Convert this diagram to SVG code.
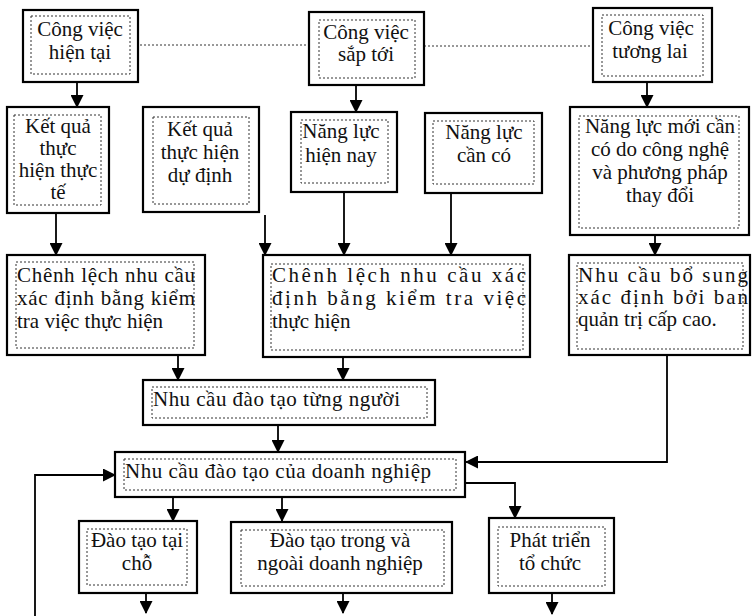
<svg xmlns="http://www.w3.org/2000/svg" width="752" height="616" viewBox="0 0 752 616">
<defs>
<marker id="ah" markerUnits="userSpaceOnUse" markerWidth="13" markerHeight="13" refX="12" refY="6.5" orient="auto">
<path d="M0,0 L13,6.5 L0,13 z" fill="#000"/>
</marker>
<style>
.box{fill:#fff;stroke:#000;stroke-width:2.2}
.in{fill:none;stroke:#333;stroke-width:1;stroke-dasharray:2 2}
.t{font-family:"Liberation Serif","DejaVu Serif",serif;font-size:21px;fill:#111}
.c{text-anchor:middle}
.ln{fill:none;stroke:#000;stroke-width:1.8}
.dot{fill:none;stroke:#333;stroke-width:1;stroke-dasharray:2 2}
</style>
</defs>
<rect width="752" height="616" fill="#fff"/>

<g id="connectors">
<path class="dot" d="M140,45 H309"/>
<path class="dot" d="M424,46 H593"/>
<path class="ln" d="M77,82 V107" marker-end="url(#ah)"/>
<path class="ln" d="M356,85 V112" marker-end="url(#ah)"/>
<path class="ln" d="M647,82 V107" marker-end="url(#ah)"/>
<path class="ln" d="M56,213 V255" marker-end="url(#ah)"/>
<path class="ln" d="M265,215 V255" marker-end="url(#ah)"/>
<path class="ln" d="M344,192 V255" marker-end="url(#ah)"/>
<path class="ln" d="M451,193 V255" marker-end="url(#ah)"/>
<path class="ln" d="M655,235 V255" marker-end="url(#ah)"/>
<path class="ln" d="M178,355 V380" marker-end="url(#ah)"/>
<path class="ln" d="M343,357 V380" marker-end="url(#ah)"/>
<path class="ln" d="M278,425 V452" marker-end="url(#ah)"/>
<path class="ln" d="M667,355 V462 H466" marker-end="url(#ah)"/>
<path class="ln" d="M35,616 V475 H115" marker-end="url(#ah)"/>
<path class="ln" d="M173,497 V521" marker-end="url(#ah)"/>
<path class="ln" d="M282,497 V521" marker-end="url(#ah)"/>
<path class="ln" d="M432,483 H515 V518" marker-end="url(#ah)"/>
<path class="ln" d="M146,593 V613" marker-end="url(#ah)"/>
<path class="ln" d="M343,593 V613" marker-end="url(#ah)"/>
<path class="ln" d="M552,593 V614" marker-end="url(#ah)"/>
</g>

<g id="cong-viec-hien-tai">
<rect class="box" x="23" y="10" width="115" height="72"/>
<rect class="in" x="31" y="16" width="99" height="58"/>
<text class="t c" x="80" y="36">Công việc</text>
<text class="t c" x="80" y="59">hiện tại</text>
</g>

<g id="cong-viec-sap-toi">
<rect class="box" x="309" y="12" width="115" height="73"/>
<rect class="in" x="319" y="20" width="96" height="58"/>
<text class="t c" x="366" y="39">Công việc</text>
<text class="t c" x="366" y="61">sắp tới</text>
</g>

<g id="cong-viec-tuong-lai">
<rect class="box" x="593" y="8" width="119" height="74"/>
<rect class="in" x="602" y="15" width="101" height="61"/>
<text class="t c" x="651" y="35">Công việc</text>
<text class="t c" x="650" y="58">tương lai</text>
</g>

<g id="ket-qua-thuc-te">
<rect class="box" x="7" y="107" width="102" height="106"/>
<rect class="in" x="14" y="115" width="87" height="90"/>
<text class="t c" x="58" y="133">Kết quả</text>
<text class="t c" x="58" y="155">thực</text>
<text class="t c" x="58" y="177">hiện thực</text>
<text class="t c" x="58" y="199">tế</text>
</g>

<g id="ket-qua-du-dinh">
<rect class="box" x="143" y="107" width="116" height="105"/>
<rect class="in" x="153" y="117" width="96" height="87"/>
<text class="t c" x="200" y="136">Kết quả</text>
<text class="t c" x="200" y="159">thực hiện</text>
<text class="t c" x="200" y="182">dự định</text>
</g>

<g id="nang-luc-hien-nay">
<rect class="box" x="291" y="112" width="106" height="80"/>
<rect class="in" x="301" y="120" width="87" height="63"/>
<text class="t c" x="341" y="138">Năng lực</text>
<text class="t c" x="341" y="162">hiện nay</text>
</g>

<g id="nang-luc-can-co">
<rect class="box" x="425" y="113" width="117" height="80"/>
<rect class="in" x="433" y="121" width="101" height="63"/>
<text class="t c" x="484" y="139">Năng lực</text>
<text class="t c" x="484" y="162">cần có</text>
</g>

<g id="nang-luc-moi">
<rect class="box" x="570" y="107" width="179" height="128"/>
<rect class="in" x="579" y="116" width="160" height="112"/>
<text class="t c" x="660" y="133">Năng lực mới cần</text>
<text class="t c" x="660" y="156">có do công nghệ</text>
<text class="t c" x="660" y="179">và phương pháp</text>
<text class="t c" x="660" y="202">thay đổi</text>
</g>

<g id="chenh-lech-trai">
<rect class="box" x="7" y="255" width="198" height="100"/>
<rect class="in" x="16" y="262" width="178" height="86"/>
<text class="t" x="17" y="282" textLength="178" lengthAdjust="spacing">Chênh lệch nhu cầu</text>
<text class="t" x="17" y="305" textLength="178" lengthAdjust="spacing">xác định bằng kiểm</text>
<text class="t" x="17" y="328">tra việc thực hiện</text>
</g>

<g id="chenh-lech-giua">
<rect class="box" x="263" y="255" width="267" height="102"/>
<rect class="in" x="271" y="264" width="252" height="86"/>
<text class="t" x="272" y="282" textLength="254" lengthAdjust="spacing">Chênh lệch nhu cầu xác</text>
<text class="t" x="272" y="305" textLength="254" lengthAdjust="spacing">định bằng kiểm tra việc</text>
<text class="t" x="272" y="328">thực hiện</text>
</g>

<g id="nhu-cau-bo-sung">
<rect class="box" x="569" y="255" width="181" height="100"/>
<rect class="in" x="577" y="263" width="166" height="86"/>
<text class="t" x="578" y="282" textLength="170" lengthAdjust="spacing">Nhu cầu bổ sung</text>
<text class="t" x="578" y="304" textLength="170" lengthAdjust="spacing">xác định bởi ban</text>
<text class="t" x="578" y="326">quản trị cấp cao.</text>
</g>

<g id="nhu-cau-tung-nguoi">
<rect class="box" x="143" y="380" width="292" height="45"/>
<rect class="in" x="152" y="387" width="275" height="31"/>
<text class="t" x="153" y="406" textLength="247" lengthAdjust="spacing">Nhu cầu đào tạo từng người</text>
</g>

<g id="nhu-cau-doanh-nghiep">
<rect class="box" x="115" y="452" width="350" height="45"/>
<rect class="in" x="124" y="459" width="332" height="31"/>
<text class="t" x="125" y="478" textLength="306" lengthAdjust="spacing">Nhu cầu đào tạo của doanh nghiệp</text>
</g>

<g id="dao-tao-tai-cho">
<rect class="box" x="79" y="521" width="118" height="72"/>
<rect class="in" x="87" y="529" width="100" height="56"/>
<text class="t c" x="137" y="547">Đào tạo tại</text>
<text class="t c" x="137" y="570">chỗ</text>
</g>

<g id="dao-tao-trong-ngoai">
<rect class="box" x="231" y="522" width="221" height="71"/>
<rect class="in" x="241" y="530" width="203" height="56"/>
<text class="t c" x="340" y="547">Đào tạo trong và</text>
<text class="t c" x="340" y="570">ngoài doanh nghiệp</text>
</g>

<g id="phat-trien-to-chuc">
<rect class="box" x="489" y="518" width="125" height="75"/>
<rect class="in" x="498" y="527" width="107" height="59"/>
<text class="t c" x="550" y="547">Phát triển</text>
<text class="t c" x="550" y="570">tổ chức</text>
</g>
</svg>
